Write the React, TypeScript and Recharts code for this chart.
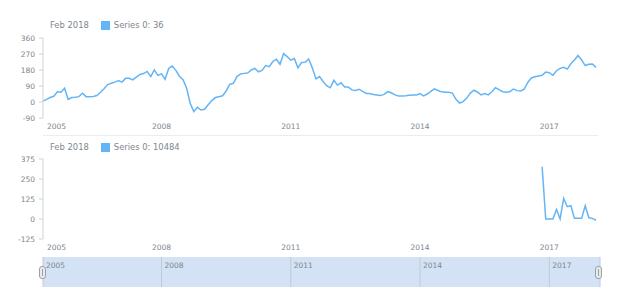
import React from "react";
import { LineChart, Line, XAxis, YAxis, CartesianGrid, ComposedChart } from "recharts";

// monthly points, Apr 2005 .. Feb 2018
const startYear = 2005;
const startMonth = 4;

const seriesValues: number[] = [
  5, 15, 25, 32, 58, 55, 77, 15, 25, 27, 30, 49, 30, 30, 31, 36, 55, 75, 98, 105,
  112, 120, 112, 133, 133, 124, 140, 155, 160, 172, 143, 180, 150, 158, 128, 189, 202, 178, 145, 125,
  77, -8, -54, -30, -45, -41, -15, 8, 25, 30, 35, 62, 99, 105, 143, 158, 161, 163, 180, 189,
  170, 178, 205, 199, 228, 240, 212, 272, 255, 235, 244, 192, 222, 223, 242, 192, 130, 143, 115, 92,
  80, 122, 95, 108, 85, 85, 68, 65, 72, 60, 48, 48, 42, 39, 36, 43, 58, 52, 40, 34,
  34, 35, 38, 39, 40, 47, 34, 45, 60, 74, 65, 57, 55, 55, 50, 15, -6, 2, 22, 50,
  66, 55, 40, 48, 40, 58, 80, 70, 58, 55, 58, 73, 64, 62, 72, 110, 135, 142, 146, 150,
  168, 165, 150, 176, 189, 195, 185, 215, 236, 262, 236, 205, 212, 214, 195,
];

const volumeStart = "2016-11";
const volumeValues: number[] = [327, 0, 0, 0, 60, 0, 129, 77, 83, 4, 4, 4, 83, 8, 4, -8];

const yearTicks = ["2005-04", "2008-01", "2011-01", "2014-01", "2017-01"];
const topTicks = [-90, 0, 90, 180, 270, 360];
const bottomTicks = [-125, 0, 125, 250, 375];

const legendTitle = "Feb 2018";
const topLegend = "Series 0: 36";
const bottomLegend = "Series 0: 10484";

const FONT = "'DejaVu Sans', Verdana, sans-serif";
const TEXT = "#7c868e";
const LINE = "#64b5f6";
const AXIS = "#cfd3d6";

const keys = seriesValues.map((_, i) => {
  const m = startMonth - 1 + i;
  return `${startYear + Math.floor(m / 12)}-${String((m % 12) + 1).padStart(2, "0")}`;
});
const volOffset = keys.indexOf(volumeStart);

const data = seriesValues.map((v, i) => ({
  date: keys[i],
  price: v,
  volume: i >= volOffset ? volumeValues[i - volOffset] : null,
}));

function PlotTick({ x, y, payload }: any) {
  const first = payload.value === yearTicks[0];
  return (
    <text
      x={first ? x + 4 : x}
      y={y + 11}
      textAnchor={first ? "start" : "middle"}
      fill={TEXT}
      fontSize={7.5}
      fontFamily={FONT}
    >
      {String(payload.value).slice(0, 4)}
    </text>
  );
}

function ScrollTick({ x, y, payload }: any) {
  return (
    <text x={x + 3} y={y + 10.5} textAnchor="start" fill={TEXT} fontSize={7.5} fontFamily={FONT}>
      {String(payload.value).slice(0, 4)}
    </text>
  );
}

function Legend({ top, text }: { top: number; text: string }) {
  return (
    <div
      style={{
        position: "absolute",
        top,
        left: 50,
        height: 10,
        display: "flex",
        alignItems: "center",
        fontFamily: FONT,
        fontSize: 8.4,
        color: TEXT,
        whiteSpace: "nowrap",
      }}
    >
      <span>{legendTitle}</span>
      <span style={{ display: "inline-block", width: 9, height: 9, background: LINE, marginLeft: 12, marginRight: 4 }} />
      <span>{text}</span>
    </div>
  );
}

function Handle({ left }: { left: number }) {
  return (
    <div
      style={{
        position: "absolute",
        top: 266,
        left,
        width: 5,
        height: 11,
        border: "1px solid #9aa0a6",
        borderRadius: 3,
        background: "#e8eaec",
      }}
    >
      <div style={{ position: "absolute", left: 2, top: 2, width: 1, height: 7, background: "#9aa0a6" }} />
    </div>
  );
}

export default function App() {
  const yAxisProps = {
    width: 43,
    axisLine: { stroke: AXIS },
    tickLine: { stroke: AXIS },
    tickSize: 4,
    tickMargin: 4,
    interval: 0 as const,
    tick: { fill: TEXT, fontSize: 7.5, fontFamily: FONT },
  };
  return (
    <div style={{ position: "absolute", left: 0, top: 0, width: 620, height: 300, background: "#fff" }}>
      <Legend top={20} text={topLegend} />
      <div style={{ position: "absolute", left: 0, top: 0 }}>
        <LineChart width={620} height={136} data={data} margin={{ top: 38, right: 24, left: 0, bottom: 0 }}>
          <XAxis
            dataKey="date"
            ticks={yearTicks}
            interval={0}
            axisLine={false}
            tickLine={false}
            tickSize={0}
            tickMargin={0}
            height={18}
            tick={<PlotTick />}
          />
          <YAxis domain={[-90, 360]} ticks={topTicks} {...yAxisProps} />
          <Line type="linear" dataKey="price" stroke={LINE} strokeWidth={1.5} dot={false} isAnimationActive={false} />
        </LineChart>
      </div>
      <div style={{ position: "absolute", left: 43, top: 135, width: 555, height: 1, background: "#ececec" }} />
      <Legend top={142} text={bottomLegend} />
      <div style={{ position: "absolute", left: 0, top: 136 }}>
        <LineChart width={620} height={121} data={data} margin={{ top: 23, right: 24, left: 0, bottom: 0 }}>
          <XAxis
            dataKey="date"
            ticks={yearTicks}
            interval={0}
            axisLine={false}
            tickLine={false}
            tickSize={0}
            tickMargin={0}
            height={18}
            tick={<PlotTick />}
          />
          <YAxis domain={[-125, 375]} ticks={bottomTicks} {...yAxisProps} />
          <Line type="linear" dataKey="volume" stroke={LINE} strokeWidth={1.5} dot={false} isAnimationActive={false} />
        </LineChart>
      </div>
      <div style={{ position: "absolute", left: 0, top: 256 }}>
        <ComposedChart width={620} height={31} data={data} margin={{ top: 0, right: 20, left: 43, bottom: 0 }}>
          <CartesianGrid horizontal={false} stroke="#bfcad6" fill="#d3e3f5" fillOpacity={1} />
          <XAxis
            dataKey="date"
            orientation="top"
            ticks={yearTicks}
            interval={0}
            axisLine={false}
            tickLine={false}
            tickSize={0}
            tickMargin={0}
            height={1}
            padding={{ left: 0, right: 4 }}
            tick={<ScrollTick />}
          />
          <YAxis hide domain={[-90, 360]} />
          <Line type="linear" dataKey="price" stroke="none" dot={false} isAnimationActive={false} />
        </ComposedChart>
      </div>
      <Handle left={39} />
      <Handle left={595} />
    </div>
  );
}
